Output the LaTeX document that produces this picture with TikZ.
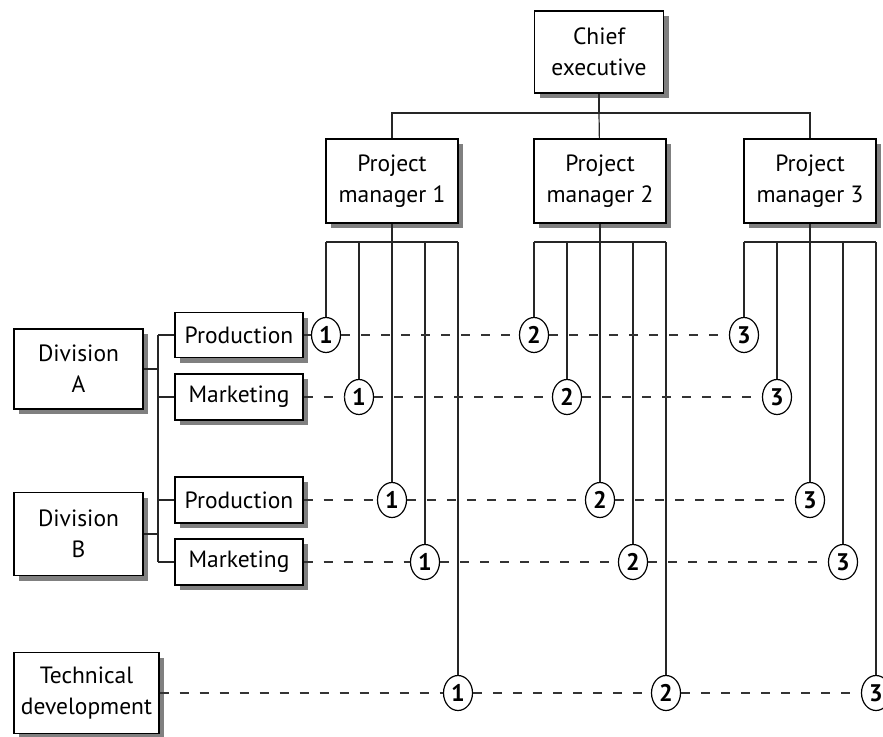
\documentclass[tikz,border=0pt]{standalone}
\usepackage{fontspec}
\setmainfont{PT Sans}
\usepackage{tikz}
\usetikzlibrary{shapes.geometric,shadows}

\tikzset{
	unit/.style={draw, line width=1.4pt, fill=white, align=center, inner sep=0pt,
		font=\fontsize{23.5}{31}\selectfont,
		drop shadow={shadow xshift=5pt, shadow yshift=-5pt, fill=black!50, opacity=1}},
	num/.style={draw, ellipse, line width=1.2pt, fill=white, inner sep=0pt,
		minimum width=29pt, minimum height=35pt, font=\fontsize{24}{24}\selectfont\bfseries},
	link/.style={line width=1.2pt, black!85},
	share/.style={line width=1.5pt, black!80, dash pattern=on 9pt off 11pt}
}

\begin{document}
\begin{tikzpicture}[x=1pt, y=-1pt]
		\useasboundingbox (0,0) rectangle (883,736);
		% chief and project managers
		\node[unit, minimum width=129pt, minimum height=82pt] (ce) at (599,52) {Chief\\executive};
		\coordinate (hub) at (599,113);
		\foreach \p/\xc in {1/392, 2/600, 3/810} {
			\node[unit, minimum width=132pt, minimum height=84pt] (pm\p) at (\xc,181) {Project\\manager \p};
			\foreach \r/\y in {1/335, 2/397, 3/500, 4/562, 5/693} {
				\pgfmathsetmacro\xx{\xc+33*(\r-3)}
				\coordinate (t\p\r) at (\xx,242);
				\node[num] (c\p\r) at (\xx,\y) {\p};
				\draw[link] (t\p\r) -- (c\p\r);
			}
			\draw[link] (t\p1) -- (t\p5);
			\draw[link] (pm\p) -- (t\p3);
		}
		\draw[link] (ce) -- (hub);
		\draw[link] (pm1) |- (hub) -| (pm3);
		\draw[link] (hub) -- (pm2);
		% divisions and functions
		\node[unit, minimum width=129pt, minimum height=80pt] (diva) at (78.5,369) {Division\\A};
		\node[unit, minimum width=129pt, minimum height=83pt] (divb) at (78.5,534) {Division\\B};
		\node[unit, minimum width=128pt, minimum height=45pt] (proda) at (239,335) {Production};
		\node[unit, minimum width=128pt, minimum height=46pt] (mkta) at (239,397) {Marketing};
		\node[unit, minimum width=128pt, minimum height=46pt] (prodb) at (239,500) {Production};
		\node[unit, minimum width=128pt, minimum height=46pt] (mktb) at (239,562) {Marketing};
		\node[unit, minimum width=145pt, minimum height=81pt] (tech) at (86.5,693) {Technical\\development};
		\coordinate (bus) at (158,335);
		\foreach \b in {proda, mkta, prodb, mktb}
			\draw[link] (\b) -- (\b -| bus);
		\draw[link] (proda -| bus) -- (mktb -| bus);
		\draw[link] (diva) -- (diva -| bus);
		\draw[link] (divb) -- (divb -| bus);
		% shared staff lines
		\foreach \r/\b in {1/proda, 2/mkta, 3/prodb, 4/mktb, 5/tech}
			\draw[share] (\b) -- (c1\r) -- (c2\r) -- (c3\r);
	\end{tikzpicture}
\end{document}
